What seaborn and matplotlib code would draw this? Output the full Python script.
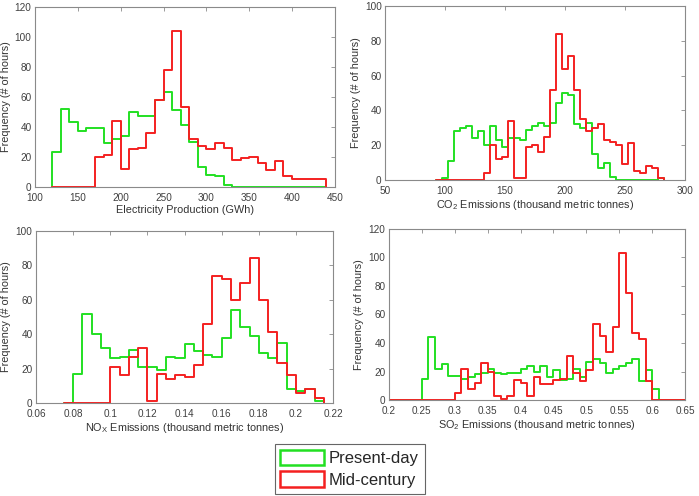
import numpy as np
import pandas as pd
import matplotlib
matplotlib.use('Agg')
import matplotlib.pyplot as plt
import seaborn as sns
from matplotlib.patches import Patch

# Electricity production (GWh), bins of 10 GWh from 120 to 440
elec_edges = np.arange(120, 441, 10)
elec_present = [23, 52, 43, 37, 39, 39, 29, 32, 34, 50, 47, 47, 58, 63, 51, 41,
                30, 13, 8, 7, 1, 0, 0, 0, 0, 0, 0, 0, 0, 0, 0, 0]
elec_mid = [0, 0, 0, 0, 0, 20, 21, 44, 12, 25, 26, 36, 58, 78, 104, 53,
            32, 27, 25, 29, 26, 18, 19, 20, 16, 11, 17, 7, 5, 5, 5, 5]

# CO2 emissions (thousand metric tonnes), bins of 5 from 92.5 to 282.5
co2_edges = np.arange(92.5, 283, 5)
co2_present = [0, 1, 11, 28, 30, 31, 24, 28, 20, 31, 23, 19, 24, 24, 23, 29,
               31, 33, 31, 33, 44, 50, 49, 32, 30, 33, 15, 7, 10, 2, 0, 0,
               0, 0, 0, 0, 0, 1]
co2_mid = [0, 0, 0, 0, 0, 0, 0, 0, 4, 20, 12, 13, 34, 1, 1, 19,
           20, 16, 25, 52, 84, 64, 71, 52, 35, 28, 30, 32, 23, 22, 20, 9,
           21, 5, 4, 8, 7, 1]

# NOx emissions, bins of 0.005 from 0.075 to 0.215
nox_edges = np.linspace(0.075, 0.215, 29)
nox_present = [0, 17, 52, 40, 32, 26, 27, 31, 21, 21, 19, 27, 26, 34, 30, 28,
               27, 38, 54, 44, 39, 29, 26, 35, 8, 7, 8, 1]
nox_mid = [0, 0, 0, 0, 0, 21, 16, 27, 32, 1, 17, 14, 16, 15, 22, 46,
           74, 72, 60, 70, 84, 60, 41, 23, 16, 6, 8, 3]

# SO2 emissions, bins of 0.01 from 0.2 to 0.65
so2_edges = np.linspace(0.2, 0.65, 46)
so2_present = [0, 0, 0, 0, 0, 15, 44, 22, 25, 17, 17, 15, 16, 18, 19, 22,
               19, 18, 19, 19, 22, 24, 20, 24, 16, 21, 14, 15, 22, 16, 27, 29,
               26, 19, 22, 24, 26, 29, 13, 21, 8, 0, 0, 0, 0]
so2_mid = [0, 0, 0, 0, 0, 0, 0, 0, 0, 0, 5, 22, 8, 12, 26, 20,
           3, 1, 3, 14, 12, 3, 16, 11, 11, 14, 15, 31, 19, 13, 21, 53,
           45, 34, 51, 103, 75, 47, 43, 13, 0, 0, 0, 0, 0]

series_labels = ['Present-day', 'Mid-century']
green = '#22e022'
red = '#f42020'

sns.set_theme(style='white')
plt.rcParams['font.family'] = ['Liberation Sans', 'DejaVu Sans']
plt.rcParams['mathtext.default'] = 'regular'

fig = plt.figure(figsize=(6.99, 4.96), dpi=100)

panels = [
    dict(pos=[0.0501, 0.623, 0.429, 0.363], edges=elec_edges,
         present=elec_present, mid=elec_mid,
         xlim=(100, 450), xticks=np.arange(100, 451, 50),
         ylim=(0, 120), yticks=np.arange(0, 121, 20),
         xlabel='Electricity Production (GWh)'),
    dict(pos=[0.551, 0.637, 0.429, 0.351], edges=co2_edges,
         present=co2_present, mid=co2_mid,
         xlim=(50, 300), xticks=np.arange(50, 301, 50),
         ylim=(0, 100), yticks=np.arange(0, 101, 20),
         xlabel='CO$_2$ Emissions (thousand metric tonnes)'),
    dict(pos=[0.0515, 0.1875, 0.425, 0.347], edges=nox_edges,
         present=nox_present, mid=nox_mid,
         xlim=(0.06, 0.22), xticks=np.linspace(0.06, 0.22, 9),
         ylim=(0, 100), yticks=np.arange(0, 101, 20),
         xlabel='NO$_X$ Emissions (thousand metric tonnes)'),
    dict(pos=[0.5565, 0.1935, 0.4235, 0.345], edges=so2_edges,
         present=so2_present, mid=so2_mid,
         xlim=(0.2, 0.65), xticks=np.linspace(0.2, 0.65, 10),
         ylim=(0, 120), yticks=np.arange(0, 121, 20),
         xlabel='SO$_2$ Emissions (thousand metric tonnes)'),
]

for p in panels:
    ax = fig.add_axes(p['pos'])
    edges = [float(e) for e in p['edges']]
    centers = [(a + b) / 2 for a, b in zip(edges[:-1], edges[1:])]
    for counts, color in [(p['present'], green), (p['mid'], red)]:
        df = pd.DataFrame({'value': centers, 'count': counts})
        sns.histplot(data=df, x='value', weights='count', bins=edges,
                     element='step', fill=False, color=color, linewidth=1.4,
                     ax=ax)
        # close the outline down to zero at both ends, like a stairs plot
        line = ax.lines[-1]
        xs, ys = line.get_data()
        line.set_data(np.r_[xs[0], xs, xs[-1]], np.r_[0, ys, 0])
    ax.set_xlim(*p['xlim'])
    ax.set_ylim(*p['ylim'])
    ax.set_xticks(p['xticks'])
    ax.set_xticklabels([f'{v:g}' for v in np.round(p['xticks'], 3)])
    ax.set_yticks(p['yticks'])
    ax.set_yticklabels([f'{v:g}' for v in p['yticks']])
    ax.tick_params(direction='in', length=3, width=0.6, colors='#8a8a8a',
                   labelcolor='#404040', labelsize=7.2, top=True, right=True,
                   pad=2.5)
    ax.tick_params(axis='x', pad=4)
    for s in ax.spines.values():
        s.set_color('#8a8a8a')
        s.set_linewidth(0.8)
        s.set_visible(True)
    ax.set_xlabel(p['xlabel'], fontsize=7.8, color='#333333', labelpad=1.5)
    ax.set_ylabel('Frequency (# of hours)', fontsize=7.8, color='#333333',
                  labelpad=3)

handles = [Patch(facecolor='white', edgecolor=green, linewidth=1.8),
           Patch(facecolor='white', edgecolor=red, linewidth=1.8)]
leg = fig.legend(handles, series_labels, loc='lower center',
                 bbox_to_anchor=(0.5, 0.005), fontsize=12, frameon=True,
                 fancybox=False, edgecolor='#404040', handlelength=2.6,
                 handleheight=1.05, handletextpad=0.3, borderpad=0.35,
                 labelspacing=0.3, borderaxespad=0)
leg.get_frame().set_linewidth(0.8)

fig.savefig('out.png', dpi=100)
